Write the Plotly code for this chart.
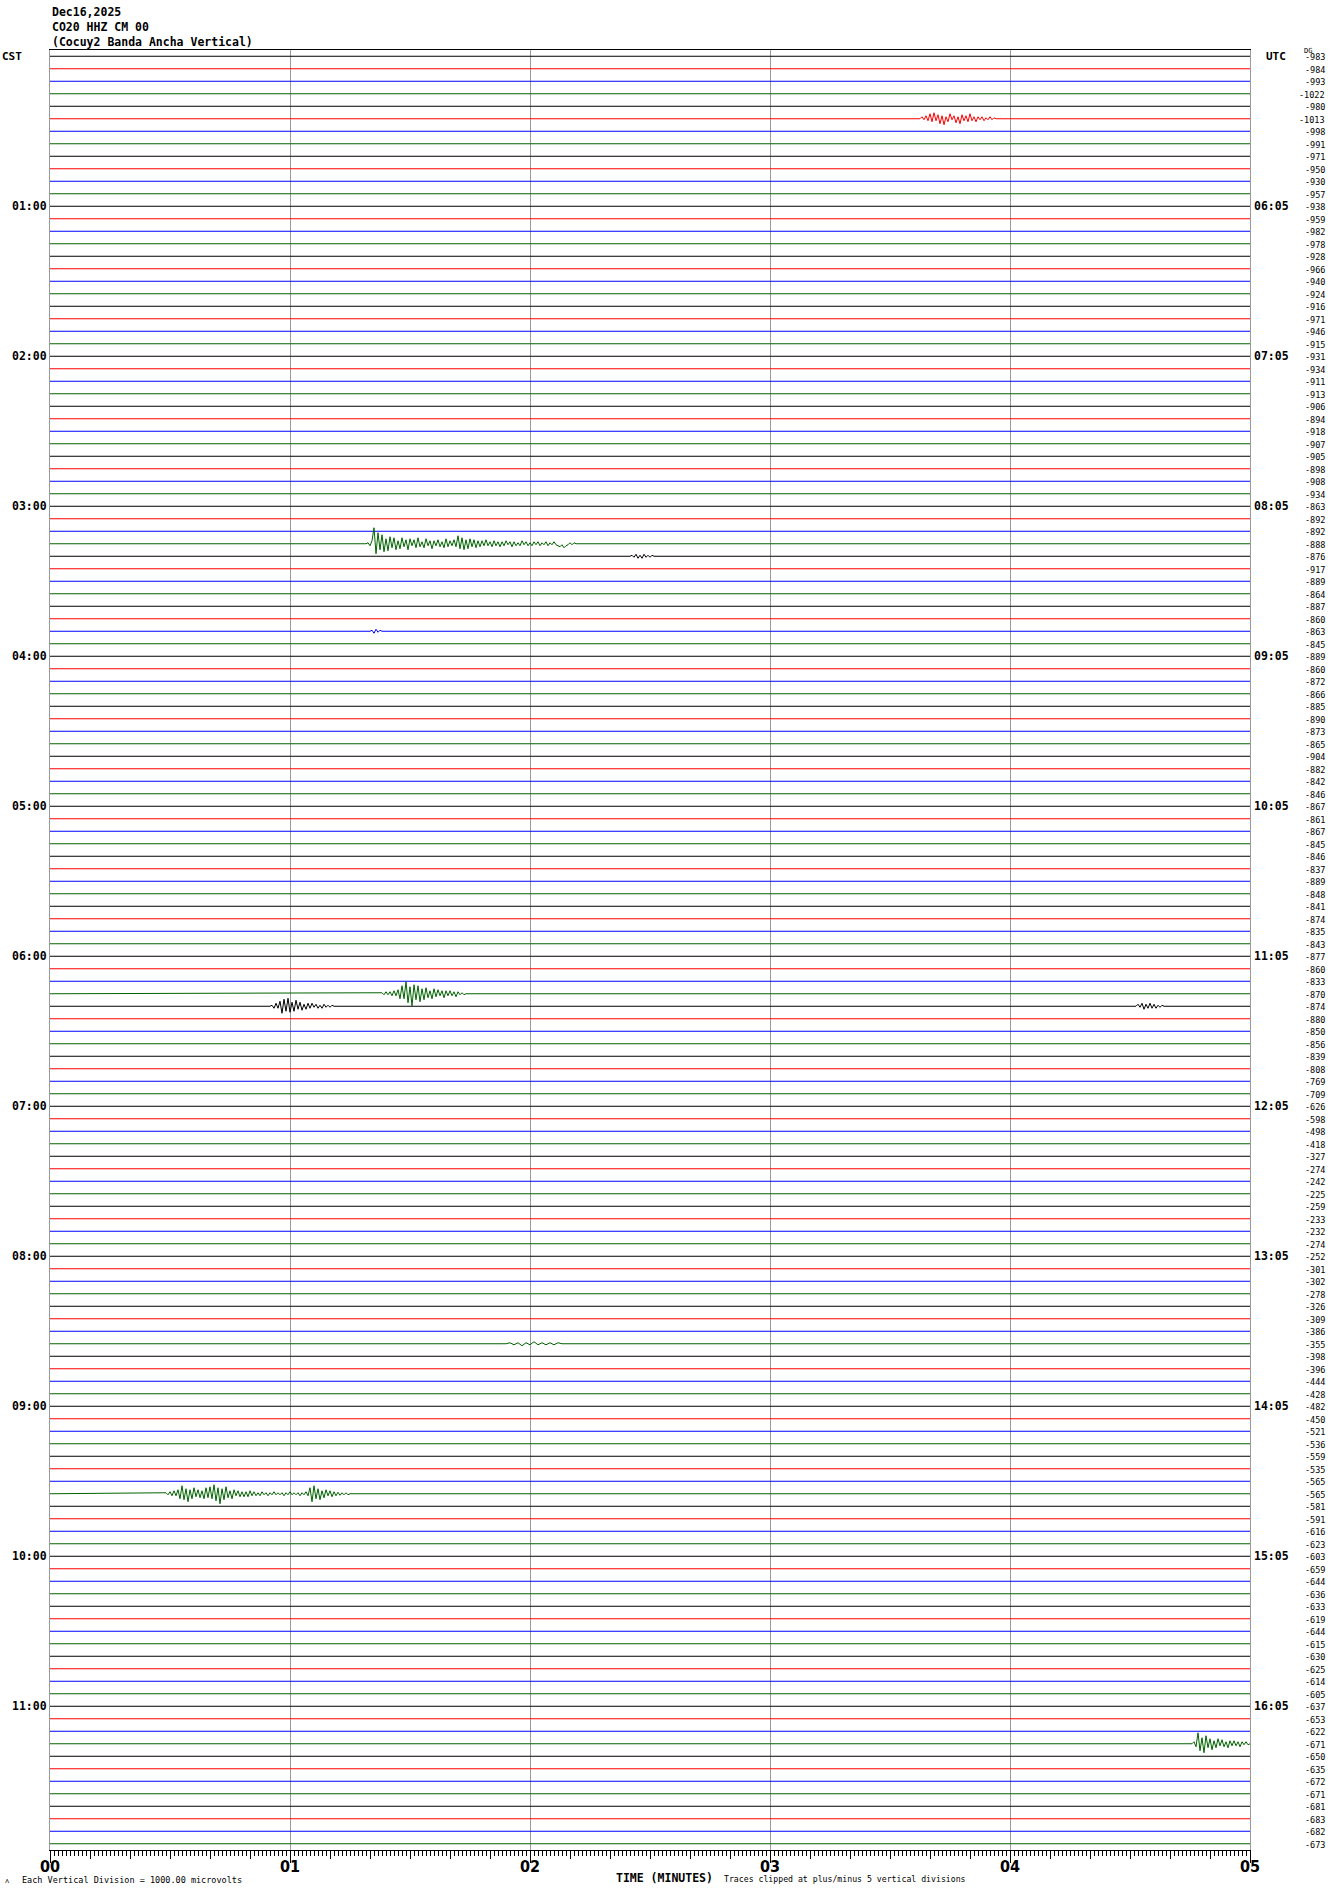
import plotly.graph_objects as go

# helicorder page: 144 lines of 5 minutes, 00:00 - 11:55 CST
N_LINES = 144
LINE_SECONDS = 300
TRACE_COLORS = ['#000000', '#ff0000', '#0000ff', '#006400']

HEADER = ['Dec16,2025', 'CO20 HHZ CM 00', '(Cocuy2 Banda Ancha Vertical)']
LEFT_HOURS = ['01:00', '02:00', '03:00', '04:00', '05:00', '06:00',
              '07:00', '08:00', '09:00', '10:00', '11:00']
RIGHT_HOURS = ['06:05', '07:05', '08:05', '09:05', '10:05', '11:05',
               '12:05', '13:05', '14:05', '15:05', '16:05']
MINUTE_TICKS = [0, 60, 120, 180, 240, 300]
MINUTE_LABELS = ['00', '01', '02', '03', '04', '05']

# offset value printed at the right end of every line
LINE_OFFSETS = [
    -983, -984, -993, -1022, -980, -1013, -998, -991, -971, -950, -930, -957,
    -938, -959, -982, -978, -928, -966, -940, -924, -916, -971, -946, -915,
    -931, -934, -911, -913, -906, -894, -918, -907, -905, -898, -908, -934,
    -863, -892, -892, -888, -876, -917, -889, -864, -887, -860, -863, -845,
    -889, -860, -872, -866, -885, -890, -873, -865, -904, -882, -842, -846,
    -867, -861, -867, -845, -846, -837, -889, -848, -841, -874, -835, -843,
    -877, -860, -833, -870, -874, -880, -850, -856, -839, -808, -769, -709,
    -626, -598, -498, -418, -327, -274, -242, -225, -259, -233, -232, -274,
    -252, -301, -302, -278, -326, -309, -386, -355, -398, -396, -444, -428,
    -482, -450, -521, -536, -559, -535, -565, -565, -581, -591, -616, -623,
    -603, -659, -644, -636, -633, -619, -644, -615, -630, -625, -614, -605,
    -637, -653, -622, -671, -650, -635, -672, -671, -681, -683, -682, -673,
]

# amplitude units per line spacing
AMP_PER_LINE = 12.5

QUAKE_0025 = [0, 2, -1, 3, -2, 5, -3, 6, -2, 4, -5, 3, -6, 2, -3, 5, -1, 3, -4, 2,
              -5, 4, -2, 3, -3, 5, -2, 2, -3, 2, -1, 2, -2, 1, -1, 2, -1, 1, 0]
QUAKE_0315 = [0, 1, -2, 3,
              16, -10, 11, -6, 9, -8, 5, -7, 
              7, -4, 6, -6, 3, -5, 6, -3, 4, -6, 5, -2, 4, -4, 6, -3, 2, -4, 5, -2,
              3, -5, 3, -2, 4, -3, 2, -4, 5, -3, 3, -2, 4, -3,
              8, -5, 6, -6, 4, -5, 5, -3, 4, -4, 3, -3,
              3, -2, 4, -2, 2, -3, 3, -2, 2, -3, 2, -2, 3, -1, 2, -3, 2, -2, 1, -2,
              3, -1, 2, -2, 1, -2, 2, -1, 2, -2, 1, -1, 2, -2, 1, -1, 2, -1,
              -2, -3, -1, -4, -2, -1, 1, -1, 1, 0]
BLIP_0320 = [0, 1, -1, 2, -2, 1, -2, 2, -1, 1, -1, 1, 0]
BLIP_0350 = [0, 1, -2, 2, -1, 1, 0]
QUAKE_0615 = [1, -1, 2, -1, 2, -2, 3, -2, 4, -5, 8, -5, 12, -9, 7, -12, 9, -6, 8, -8,
              5, -6, 6, -4, 3, -5, 5, -3, 4, -2, 3, -4, 3, -2, 3, -2, 2, -3, 2, -1,
              1, -1, 0]
QUAKE_0620 = [0, 1, -2, 3, -2, 5, -7, 7, -5, 8, -6, 4, -5, 6, -3, 4, -4, 2, -3, 3,
              -2, 3, -1, 2, -2, 1, -2, 2, -1, 1, -1, 1, 0]
QUAKE_0620_B = [0, 2, -1, 3, -3, 2, -2, 3, -2, 2, -2, 1, -1, 1, 0]
BLIP_0835 = [0, 1, -1, 1, -2, 1, -1, 2, -1, 1, -1, 1, -1, 1, 0]
QUAKE_0935 = [1, -1, 2, -2, 3, -2, 4, -5, 8, -6, 5, -8, 4, -5, 6, -3, 4, -4, 3, -5,
              6, -4, 7, -5, 9, -7, 6, -10, 5, -6, 7, -4, 3, -5, 4, -2, 3, -3, 2, -3,
              2, -3, 3, -2, 2, -2, 1, -2, 2, -1, 1, -2, 1, -1, 2, -1, 1, -1, 1, -2,
              1, -1, 2, -1, 1, -1, 1, -2, 1, -1, 2, -2, 6, -8, 8, -5, 5, -6, 3, -4,
              4, -2, 3, -3, 2, -2, 1.5, -1.5, 1, -1, 1, -1, 0]
QUAKE_1115 = [0, 2, -3, 11, -7, 6, -9, 8, -4, 5, -6, 3, -4, 5, -2, 4, -3, 2, -4, 3,
              -2, 3, -2, 2, -3, 2, -1, 2, -1]

# (line index, start second, step seconds, samples)
EVENTS = [
    (5, 217.5, 0.5, QUAKE_0025),
    (39, 79.0, 0.5, QUAKE_0315),
    (40, 145.0, 0.5, BLIP_0320),
    (46, 80.0, 0.5, BLIP_0350),
    (75, 83.0, 0.5, QUAKE_0615),
    (76, 55.0, 0.5, QUAKE_0620),
    (76, 271.5, 0.5, QUAKE_0620_B),
    (103, 114.0, 1.0, BLIP_0835),
    (115, 29.0, 0.5, QUAKE_0935),
    (135, 285.5, 0.5, QUAKE_1115),
]

MONO = 'DejaVu Sans Mono'
NARROW = 'Liberation Sans Narrow, DejaVu Sans Condensed, sans-serif'

by_line = {}
for line, t0, step, samples in EVENTS:
    by_line.setdefault(line, []).append((t0, step, samples))

xs = [[] for _ in TRACE_COLORS]
ys = [[] for _ in TRACE_COLORS]
for i in range(N_LINES):
    base = -i
    x, y = [0], [base]
    for t0, step, samples in sorted(by_line.get(i, [])):
        for k, a in enumerate(samples):
            x.append(t0 + k * step)
            y.append(base + a / AMP_PER_LINE)
    x.append(LINE_SECONDS)
    y.append(base)
    c = i % len(TRACE_COLORS)
    xs[c] += x + [None]
    ys[c] += y + [None]

fig = go.Figure()
for c, color in enumerate(TRACE_COLORS):
    fig.add_trace(go.Scatter(x=xs[c], y=ys[c], mode='lines',
                             line=dict(color=color, width=1),
                             hoverinfo='skip', showlegend=False))
# carrier for the 10-second tick axis
fig.add_trace(go.Scatter(x=[None], y=[None], xaxis='x2', yaxis='y',
                         hoverinfo='skip', showlegend=False))

ann = []
for k, txt in enumerate(HEADER):
    ann.append(dict(text=txt, xref='paper', yref='paper', x=0, y=1, xanchor='left',
                    yanchor='middle', yshift=38 - 15 * k, showarrow=False,
                    font=dict(family=MONO, size=11.5, color='black', weight='bold')))
ann.append(dict(text='CST', xref='paper', yref='y', x=0, y=0, xanchor='left', xshift=-50,
                showarrow=False, font=dict(family=MONO, size=11, color='black', weight='bold')))
ann.append(dict(text='UTC', xref='paper', yref='y', x=1, y=0, xanchor='left', xshift=14,
                showarrow=False, font=dict(family=MONO, size=11, color='black', weight='bold')))
ann.append(dict(text='DG', xref='paper', yref='y', x=1, y=0, xanchor='left', xshift=52,
                yshift=5, showarrow=False, font=dict(family=MONO, size=7, color='black')))
for k, (lt, rt) in enumerate(zip(LEFT_HOURS, RIGHT_HOURS)):
    row = -12 * (k + 1)
    ann.append(dict(text=lt, xref='paper', yref='y', x=0, y=row, xanchor='right', xshift=-1,
                    showarrow=False, font=dict(family=MONO, size=11.5, color='black', weight='bold')))
    ann.append(dict(text=rt, xref='paper', yref='y', x=1, y=row, xanchor='left', xshift=2,
                    showarrow=False, font=dict(family=MONO, size=11.5, color='black', weight='bold')))
for i, v in enumerate(LINE_OFFSETS):
    ann.append(dict(text=str(v), xref='paper', yref='y', x=1, y=-i, xanchor='right', xshift=77,
                    yshift=-1, showarrow=False, font=dict(family=MONO, size=8.5, color='black')))
for t, lab in zip(MINUTE_TICKS, MINUTE_LABELS):
    ann.append(dict(text=lab, xref='x', yref='paper', x=t, y=0, yanchor='middle', yshift=-16,
                    showarrow=False, font=dict(family=NARROW, size=16, color='black', weight='bold')))
ann.append(dict(text='TIME (MINUTES)', xref='paper', yref='paper', x=(614 - 50) / 1200, y=0,
                xanchor='left', yanchor='middle', yshift=-28, showarrow=False,
                font=dict(family=MONO, size=11.5, color='black', weight='bold')))
ann.append(dict(text='Each Vertical Division = 1000.00 microvolts', xref='paper', yref='paper',
                x=(20 - 50) / 1200, y=0, xanchor='left', yanchor='middle', yshift=-30,
                showarrow=False, font=dict(family=MONO, size=8.5, color='black')))
ann.append(dict(text='Traces clipped at plus/minus 5 vertical divisions', xref='paper',
                yref='paper', x=(722 - 50) / 1200, y=0, xanchor='left', yanchor='middle',
                yshift=-29, showarrow=False, font=dict(family=MONO, size=8.2, color='black')))
ann.append(dict(text='ʌ', xref='paper', yref='paper', x=(3 - 50) / 1200, y=0, xanchor='left',
                yanchor='middle', yshift=-31, showarrow=False,
                font=dict(family=MONO, size=7, color='black')))

fig.update_layout(
    width=1330,
    height=1894,
    margin=dict(l=50, r=80, t=50, b=44),
    paper_bgcolor='white',
    plot_bgcolor='white',
    showlegend=False,
    annotations=ann,
    xaxis=dict(range=[0, LINE_SECONDS], tickmode='array', tickvals=MINUTE_TICKS,
               showticklabels=False, ticks='outside', ticklen=12, tickcolor='black',
               showgrid=True, gridcolor='#9a9a9a', gridwidth=1, zeroline=False,
               showline=True, linecolor='black', linewidth=1, mirror=True,
               minor=dict(tick0=0, dtick=1, ticks='outside', ticklen=5,
                          tickcolor='black', showgrid=False)),
    xaxis2=dict(overlaying='x', anchor='y', side='bottom', range=[0, LINE_SECONDS],
                tickmode='linear', tick0=0, dtick=10, ticks='outside', ticklen=8,
                tickcolor='black', showticklabels=False, showgrid=False,
                zeroline=False, showline=False),
    yaxis=dict(range=[-N_LINES + 0.5, 0.5], showticklabels=False, showgrid=False,
               zeroline=False, showline=True, linecolor='#9a9a9a', mirror=True),
)

fig.write_html("out.html", config={'displayModeBar': False},
               post_script="document.body.style.margin='0';document.body.style.overflow='hidden';")
